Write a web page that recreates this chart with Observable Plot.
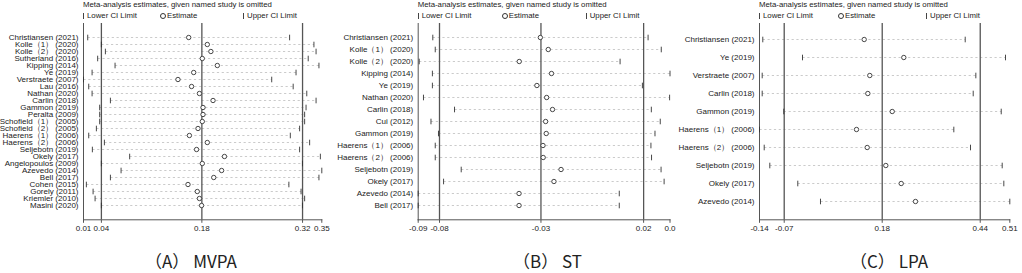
<!DOCTYPE html>
<html>
<head>
<meta charset="utf-8">
<script src="https://cdn.jsdelivr.net/npm/d3@7"></script>
<script src="https://cdn.jsdelivr.net/npm/@observablehq/plot@0.6"></script>
<style>
  body { margin: 0; background: #fff; }
  #wrap { position: relative; width: 1022px; height: 273px; overflow: hidden; font-family: Arial, "Liberation Sans", sans-serif; color: #222; }
  .panel { position: absolute; top: 0; }
  .title, .legend { position: absolute; font-size: 7.8px; line-height: 9px; white-space: nowrap; color: #222; }
  .circ { display: inline-block; width: 4px; height: 4px; border: 0.8px solid #333; border-radius: 50%; vertical-align: -0.5px; margin-right: 1px; }
  .bar { display: inline-block; width: 0; height: 6px; border-left: 1px solid #444; vertical-align: -0.5px; margin-right: 3px; }
  .caption { position: absolute; font-family: "Noto Sans CJK SC", sans-serif; font-size: 17px; line-height: 17px; white-space: pre; color: #222; }
</style>
</head>
<body>
<div id="wrap"></div>
<script>
// ---------- Data ----------
const titleText = "Meta-analysis estimates, given named study is omitted";
const legendLabels = ["Lower CI Limit", "Estimate", "Upper CI Limit"];

// (A) MVPA
const mvpaStudies = ["Christiansen (2021)","Kolle（1） (2020)","Kolle（2） (2020)","Sutherland (2016)","Kipping (2014)","Ye (2019)","Verstraete (2007)","Lau (2016)","Nathan (2020)","Carlin (2018)","Gammon (2019)","Peralta (2009)","Schofield（1） (2005)","Schofield（2） (2005)","Haerens（1） (2006)","Haerens（2） (2006)","Seljebotn (2019)","Okely (2017)","Angelopoulos (2009)","Azevedo (2014)","Bell (2017)","Cohen (2015)","Gorely (2011)","Kriemler (2010)","Masini (2020)"];
const mvpaLower = [0.0209,0.040,0.0456,0.0348,0.0591,0.0270,0.015,0.0223,0.0270,0.0526,0.0376,0.0376,0.0376,0.0330,0.0223,0.0442,0.0274,0.0795,0.040,0.0675,0.0526,0.0190,0.0284,0.0312,0.040];
const mvpaEstimate = [0.162,0.188,0.193,0.181,0.202,0.169,0.147,0.166,0.177,0.196,0.182,0.182,0.181,0.175,0.163,0.188,0.173,0.212,0.181,0.208,0.197,0.161,0.174,0.177,0.180];
const mvpaUpper = [0.303,0.337,0.340,0.329,0.344,0.312,0.278,0.308,0.327,0.340,0.326,0.324,0.324,0.317,0.304,0.331,0.317,0.346,0.321,0.348,0.344,0.302,0.319,0.324,0.321];
const mvpaOverall = [0.040, 0.1804, 0.3211];
const mvpaTickLabels = ["0.01","0.04","0.18","0.32","0.35"];
const mvpaCaption = "（A） MVPA";

// (B) ST
const stStudies = ["Christiansen (2021)","Kolle（1） (2020)","Kolle（2） (2020)","Kipping (2014)","Ye (2019)","Nathan (2020)","Carlin (2018)","Cui (2012)","Gammon (2019)","Haerens（1） (2006)","Haerens（2） (2006)","Seljebotn (2019)","Okely (2017)","Azevedo (2014)","Bell (2017)"];
const stLower = [-0.0833,-0.0821,-0.0900,-0.0835,-0.0835,-0.0879,-0.0726,-0.0842,-0.0805,-0.0821,-0.0821,-0.0693,-0.0780,-0.0905,-0.0905];
const stEstimate = [-0.0303,-0.0264,-0.0407,-0.0248,-0.0320,-0.0272,-0.0243,-0.0277,-0.0274,-0.0290,-0.0289,-0.0201,-0.0236,-0.0408,-0.0408];
const stUpper = [0.0228,0.0293,0.0090,0.0336,0.0200,0.0334,0.0244,0.0288,0.0262,0.0242,0.0245,0.0292,0.0307,0.0086,0.0086];
const stOverall = [-0.080, -0.030, 0.0206];
const stTickLabels = ["-0.09","-0.08","-0.03","0.02","0.0"];
const stCaption = "（B） ST";

// (C) LPA
const lpaStudies = ["Christiansen (2021)","Ye (2019)","Verstraete (2007)","Carlin (2018)","Gammon (2019)","Haerens（1） (2006)","Haerens（2） (2006)","Seljebotn (2019)","Okely (2017)","Azevedo (2014)"];
const lpaLower = [-0.1275,-0.0246,-0.1290,-0.1290,-0.0731,-0.1360,-0.1238,-0.1093,-0.0368,0.0220];
const lpaEstimate = [0.1352,0.2378,0.1497,0.1446,0.2078,0.1153,0.1430,0.1912,0.2311,0.2681];
const lpaUpper = [0.3969,0.5013,0.4244,0.4176,0.4902,0.3674,0.4106,0.4927,0.4969,0.5124];
const lpaOverall = [-0.0720, 0.1819, 0.4358];
const lpaTickLabels = ["-0.14","-0.07","0.18","0.44","0.51"];
const lpaCaption = "（C） LPA";

// ---------- Layout ----------
const svgHeight = 240;
const frameTop = 23;
const frameBottom = 219.3;
const panels = [
  { studies: mvpaStudies, lower: mvpaLower, est: mvpaEstimate, upper: mvpaUpper, refs: mvpaOverall, labels: mvpaTickLabels, caption: mvpaCaption,
    left: 0, width: 340, marginLeft: 83, marginRight: 18.7, yRange: [30, 212.3], legendOffsets: [0, 77, 160], captionLeft: 145 },
  { studies: stStudies, lower: stLower, est: stEstimate, upper: stUpper, refs: stOverall, labels: stTickLabels, caption: stCaption,
    left: 340, width: 340, marginLeft: 77.7, marginRight: 10.5, yRange: [30.7, 212], legendOffsets: [0, 84, 168], captionLeft: 513 },
  { studies: lpaStudies, lower: lpaLower, est: lpaEstimate, upper: lpaUpper, refs: lpaOverall, labels: lpaTickLabels, caption: lpaCaption,
    left: 680, width: 342, marginLeft: 79, marginRight: 12.7, yRange: [30.3, 210.7], legendOffsets: [0, 79, 167], captionLeft: 850 }
];

// vertical bar symbol for CI limits
const barSymbol = {
  draw(context, size) {
    const h = Math.sqrt(size / Math.PI);
    context.moveTo(0, -h);
    context.lineTo(0, h);
  }
};

const wrap = document.getElementById("wrap");

for (const p of panels) {
  const rows = p.studies.map((s, i) => ({ study: s, lower: p.lower[i], est: p.est[i], upper: p.upper[i] }));
  const [xmin, xmax] = d3.extent([...p.lower, ...p.upper]);
  const ticks = [xmin, ...p.refs, xmax];
  const labelMap = new Map(ticks.map((t, i) => [t, p.labels[i]]));

  const chart = Plot.plot({
    width: p.width,
    height: svgHeight,
    marginLeft: p.marginLeft,
    marginRight: p.marginRight,
    marginTop: frameTop,
    marginBottom: svgHeight - frameBottom,
    style: { fontFamily: 'Arial, "Liberation Sans", sans-serif', fontSize: "8px", color: "#222", background: "transparent", overflow: "visible" },
    x: { domain: [xmin, xmax] },
    y: { type: "point", domain: p.studies, range: p.yRange },
    marks: [
      Plot.link(rows, { x1: "lower", x2: "upper", y1: "study", y2: "study", stroke: "#a8a8a8", strokeWidth: 0.6, strokeDasharray: "2.2,2.6" }),
      Plot.ruleX(p.refs, { stroke: "#555", strokeWidth: 1.3 }),
      Plot.frame({ anchor: "left", stroke: "#555", strokeWidth: 1 }),
      Plot.frame({ anchor: "bottom", stroke: "#555", strokeWidth: 1 }),
      Plot.axisX({ ticks, tickFormat: d => labelMap.get(d), tickSize: 3.5, tickPadding: 2.5, label: null, stroke: "#555", fill: "#222" }),
      Plot.axisY({ tickSize: 0, tickPadding: 5, label: null, fill: "#222" }),
      Plot.dot(rows, { x: "lower", y: "study", symbol: barSymbol, r: 2.8, stroke: "#333", strokeWidth: 0.9, fill: "none" }),
      Plot.dot(rows, { x: "upper", y: "study", symbol: barSymbol, r: 2.8, stroke: "#333", strokeWidth: 0.9, fill: "none" }),
      Plot.dot(rows, { x: "est", y: "study", r: 2.2, stroke: "#333", strokeWidth: 0.9, fill: "white" })
    ]
  });
  const holder = document.createElement("div");
  holder.className = "panel";
  holder.style.left = p.left + "px";
  holder.appendChild(chart);
  wrap.appendChild(holder);

  const axisX = p.left + p.marginLeft;
  const title = document.createElement("div");
  title.className = "title";
  title.style.left = axisX + "px";
  title.style.top = "0px";
  title.textContent = titleText;
  wrap.appendChild(title);

  legendLabels.forEach((lab, i) => {
    const el = document.createElement("div");
    el.className = "legend";
    el.style.left = (axisX + p.legendOffsets[i]) + "px";
    el.style.top = "11px";
    const sym = document.createElement("span");
    sym.className = i === 1 ? "circ" : "bar";
    el.appendChild(sym);
    el.appendChild(document.createTextNode(lab));
    wrap.appendChild(el);
  });

  const cap = document.createElement("div");
  cap.className = "caption";
  cap.style.left = p.captionLeft + "px";
  cap.style.top = "252px";
  cap.textContent = p.caption;
  wrap.appendChild(cap);
}
</script>
</body>
</html>
